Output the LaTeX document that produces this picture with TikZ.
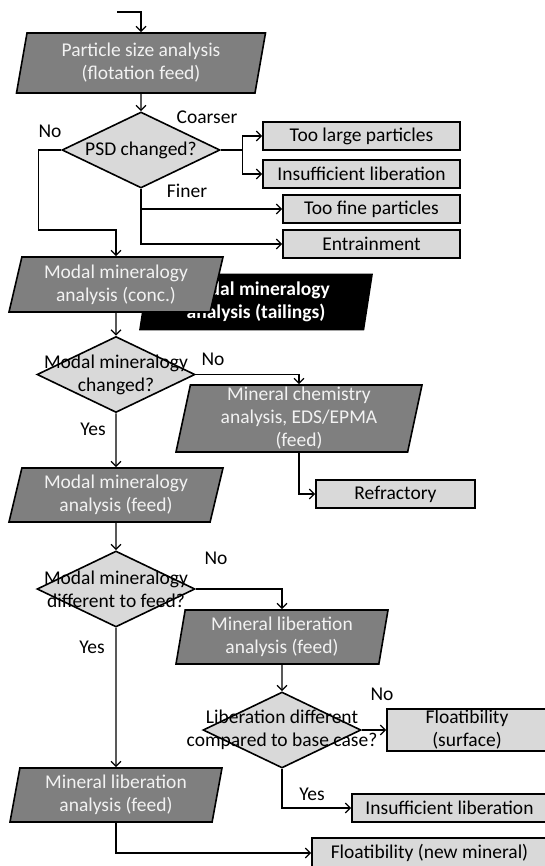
\documentclass[tikz,border=0pt]{standalone}
\usepackage{fontspec}
\setmainfont{Carlito}
\usetikzlibrary{arrows.meta,shapes.geometric}
\definecolor{iogray}{RGB}{127,127,127}
\definecolor{boxgray}{RGB}{217,217,217}
\definecolor{iotext}{RGB}{242,242,242}

\begin{document}
\begin{tikzpicture}[
  x=1pt, y=-1pt,
  >={Straight Barb[length=5pt,width=10pt]},
  every node/.style={font=\fontsize{19.5}{23}\selectfont},
  io/.style={trapezium, trapezium stretches body, trapezium left angle=76, trapezium right angle=104, draw=black, line width=1.6pt, fill=iogray, text=iotext, align=center, inner sep=0pt, minimum height=54pt},
  result/.style={rectangle, draw=black, line width=1.6pt, fill=boxgray, align=center, inner sep=0pt, minimum height=28pt},
  decision/.style={diamond, draw=black, line width=1.6pt, fill=boxgray, inner sep=0pt, minimum width=158pt, minimum height=76pt},
  dtext/.style={align=center, inner sep=0pt},
  tag/.style={inner sep=0pt},
  flow/.style={->, line width=1.3pt}
]
  \useasboundingbox (0,0) rectangle (545,866);
  \clip (0,0) rectangle (545,866);

  % particle size branch
  \coordinate (start) at (117,12);
  \node[io, minimum width=249pt, minimum height=60pt, trapezium left angle=75, trapezium right angle=105] (psa) at (141,63) {Particle size analysis\\(flotation feed)};
  \node[decision, label={[dtext]center:PSD changed?}] (psd) at (141,150) {};
  \node[result, minimum width=197pt] (large) at (361.5,136) {Too large particles};
  \node[result, minimum width=197pt] (insuf) at (361.5,174) {Insufficient liberation};
  \node[result, minimum width=177pt] (fine) at (371.5,209) {Too fine particles};
  \node[result, minimum width=177pt] (entr) at (371.5,244) {Entrainment};

  % modal mineralogy
  \node[io, fill=black, text=white, font=\fontsize{19.5}{23}\selectfont\bfseries, minimum width=232pt, minimum height=55pt, trapezium left angle=78, trapezium right angle=102] (tail) at (256,302) {Modal mineralogy\\analysis (tailings)};
  \node[io, minimum width=214pt, minimum height=55pt, trapezium left angle=72, trapezium right angle=108] (conc) at (116,284.5) {Modal mineralogy\\analysis (conc.)};
  \node[decision, label={[dtext]center:{Modal mineralogy\\changed?}}] (mmc) at (116,374.5) {};
  \node[io, minimum width=246pt, minimum height=67pt, trapezium left angle=77, trapezium right angle=103] (chem) at (299,418.5) {Mineral chemistry\\analysis, EDS/EPMA\\(feed)};
  \node[result, minimum width=159pt] (refr) at (395.5,494) {Refractory};
  \node[io, minimum width=214pt, trapezium left angle=72, trapezium right angle=108] (feed) at (116,495) {Modal mineralogy\\analysis (feed)};
  \node[decision, label={[dtext]center:{Modal mineralogy\\different to feed?}}] (mmd) at (116,589) {};

  % liberation
  \node[io, minimum width=212pt, trapezium left angle=77, trapezium right angle=103] (mlr) at (282,637) {Mineral liberation\\analysis (feed)};
  \node[decision, label={[dtext]center:{Liberation different\\compared to base case?}}] (lib) at (282,730) {};
  \node[result, minimum width=160pt, minimum height=42pt] (fsurf) at (467,730) {Floatibility\\(surface)};
  \node[result, minimum width=195pt] (insuf2) at (449.5,808) {Insufficient liberation};
  \node[io, minimum width=212pt] (mll) at (116,795) {Mineral liberation\\analysis (feed)};
  \node[result, minimum width=235pt, minimum height=30pt] (fnew) at (429.5,853) {Floatibility (new mineral)};

  % branch tags
  \node[tag] (no1) at (50,131) {No};
  \node[tag] (coarser) at (207,117) {Coarser};
  \node[tag] (finer) at (187,191) {Finer};
  \node[tag] (no2) at (213,359) {No};
  \node[tag] (yes2) at (93,429) {Yes};
  \node[tag] (no3) at (216,558) {No};
  \node[tag] (yes3) at (92,647) {Yes};
  \node[tag] (no4) at (382,694) {No};
  \node[tag] (yes4) at (312,794) {Yes};

  \draw[flow] (start) -| (psa.north);
  \draw[flow] (psa.south) -- (psd.north);
  \draw[flow] (psd.east) -- ++(22,0) |- (large.west);
  \draw[flow] (psd.east) -- ++(22,0) |- (insuf.west);
  \draw[flow] (psd.south) |- (fine.west);
  \draw[flow] (psd.south) |- (entr.west);
  \draw[flow] (psd.west) -| ++(-23,80) -| (conc.north);
  \draw[flow] (conc.south) -- (mmc.north);
  \draw[flow] (mmc.east) -| (chem.north);
  \draw[flow] (chem.south) |- (refr.west);
  \draw[flow] (mmc.south) -- (feed.north);
  \draw[flow] (feed.south) -- (mmd.north);
  \draw[flow] (mmd.east) -| (mlr.north);
  \draw[flow] (mmd.south) -- (mll.north);
  \draw[flow] (mlr.south) -- (lib.north);
  \draw[flow] (lib.east) -- (fsurf.west);
  \draw[flow] (lib.south) |- (insuf2.west);
  \draw[flow] (mll.south) |- (fnew.west);
\end{tikzpicture}
\end{document}
